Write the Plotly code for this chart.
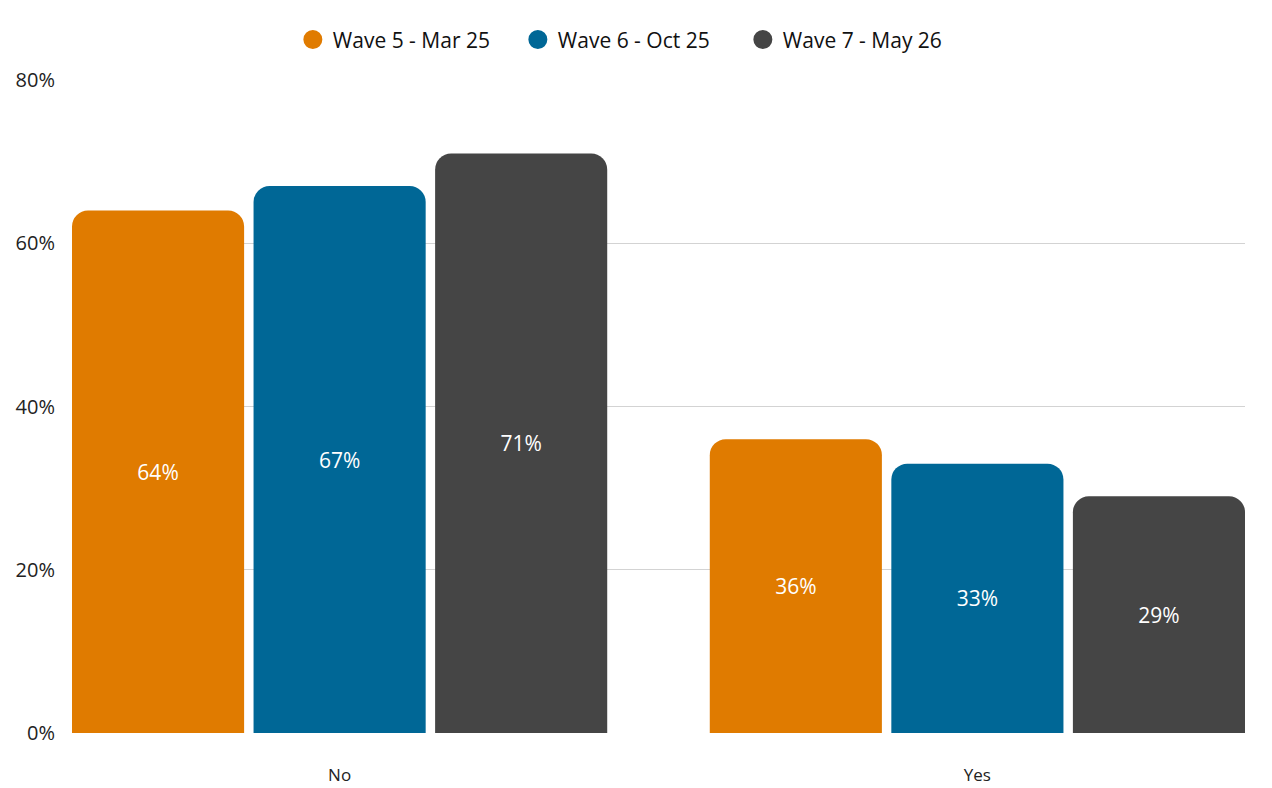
import plotly.graph_objects as go

# survey answers and the three waves
answers = ["No", "Yes"]
wave_names = ["Wave 5 - Mar 25", "Wave 6 - Oct 25", "Wave 7 - May 26"]
wave5 = [64, 36]
wave6 = [67, 33]
wave7 = [71, 29]
colors = ["#E07B00", "#006796", "#454545"]

fig = go.Figure()

for name, vals, col in zip(wave_names, [wave5, wave6, wave7], colors):
    fig.add_trace(
        go.Bar(
            x=answers,
            y=vals,
            name=name,
            marker=dict(color=col, line=dict(width=0)),
            text=[f"{v}%" for v in vals],
            textposition="inside",
            insidetextanchor="middle",
            textfont=dict(color="white", size=21, family="Open Sans"),
            showlegend=False,
            hoverinfo="skip",
        )
    )
    # legend entry with a round marker
    fig.add_trace(
        go.Scatter(
            x=[None],
            y=[None],
            mode="markers",
            name=name,
            marker=dict(color=col, size=16, symbol="circle",
                        line=dict(color=col, width=3)),
        )
    )

# page body adds 8px, so the figure is 8px smaller than the window
fig.update_layout(
    width=1264,
    height=780,
    barmode="group",
    bargap=0.146,
    bargroupgap=0.052,
    barcornerradius=16,
    plot_bgcolor="white",
    paper_bgcolor="white",
    font=dict(family="Open Sans", color="#222222", size=18),
    margin=dict(l=64, r=27, t=71, b=55),
    legend=dict(
        orientation="h",
        x=0.476,
        xanchor="center",
        y=1.06,
        yanchor="middle",
        font=dict(size=21, color="#111111"),
        itemwidth=30,
        entrywidth=180,
    ),
    xaxis=dict(
        range=[-0.4196, 1.4196],
        showgrid=False,
        showline=False,
        ticks="",
        tickfont=dict(size=17),
        ticklabelstandoff=30,
        automargin=False,
    ),
    yaxis=dict(
        range=[0, 80],
        dtick=20,
        ticksuffix="%",
        showgrid=True,
        gridcolor="#d3d3d3",
        gridwidth=1,
        zeroline=False,
        showline=False,
        tickfont=dict(size=20),
        ticklabelstandoff=16,
        automargin=False,
    ),
)

fig.write_html("out.html")
